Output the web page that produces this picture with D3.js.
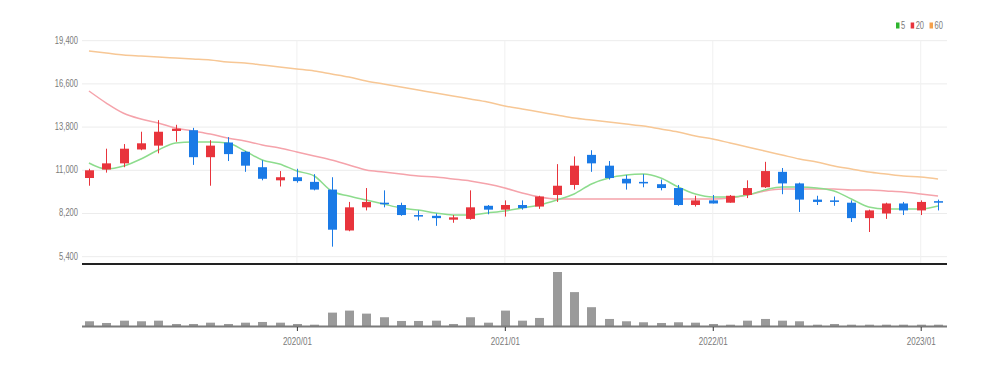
<!DOCTYPE html>
<html><head><meta charset="utf-8">
<script src="https://cdn.jsdelivr.net/npm/d3@7"></script>
<style>
html,body{margin:0;padding:0;background:#fff;}
text{font-family:"Liberation Sans",Arial,sans-serif;}
</style></head>
<body><svg id="c" width="1000" height="367"></svg>
<script>
const months = ["2019/01","2019/02","2019/03","2019/04","2019/05","2019/06","2019/07","2019/08","2019/09","2019/10","2019/11","2019/12",
"2020/01","2020/02","2020/03","2020/04","2020/05","2020/06","2020/07","2020/08","2020/09","2020/10","2020/11","2020/12",
"2021/01","2021/02","2021/03","2021/04","2021/05","2021/06","2021/07","2021/08","2021/09","2021/10","2021/11","2021/12",
"2022/01","2022/02","2022/03","2022/04","2022/05","2022/06","2022/07","2022/08","2022/09","2022/10","2022/11","2022/12",
"2023/01","2023/02"];
const open  = [10500,11050,11450,12350,12600,13550,13600,11850,12800,12200,11200,10350,10550,10250,9750,7100,8600,8900,8750,8100,8050,7800,7850,8700,8450,8750,8650,9400,10050,12000,11300,10450,10250,10100,9850,8750,9050,8900,9400,9900,10900,10150,9100,9050,8900,7900,8200,8850,8400,9000];
const high  = [11100,12400,12700,13500,14250,13950,13750,12950,13150,12250,11650,10950,11100,10750,10550,8950,9850,9700,8900,8400,8200,8100,9700,8750,9050,9050,9350,11400,11900,12300,11600,10700,10750,10400,10050,9350,9400,9400,10350,11550,11150,10200,9350,9300,9050,8450,8900,8950,9050,9100];
const low   = [10000,10850,11200,12300,12100,12850,11350,10000,11600,10900,10350,9950,10200,9700,6050,7050,8400,8600,8050,7750,7400,7600,7800,8150,8000,8450,8500,8950,9750,10900,10400,9750,9900,9700,8700,8650,8850,8900,9200,9850,9450,8300,8750,8700,7650,7000,7850,8100,8100,8400];
const close = [11000,11450,12400,12750,13500,13700,11850,12600,12050,11300,10450,10550,10300,9750,7150,8600,8950,8800,8100,8000,7900,7950,8600,8450,8750,8550,9300,10000,11300,11450,10500,10150,10150,9850,8750,9050,8850,9350,9850,10950,10150,9100,8950,8950,7900,8400,8850,8400,8950,8900];
const volume = [570,400,630,570,630,300,300,430,300,430,500,430,300,230,1430,1630,1330,970,600,600,630,300,970,430,1630,630,900,5470,3470,1970,800,570,470,400,470,430,300,230,630,800,630,570,230,300,230,230,230,230,230,230];
const ma5  = [11473,11084,11278,11732,12316,12769,12834,12834,12769,12251,11668,11409,10955,10631,9659,9335,9076,8817,8558,8428,8234,8104,8104,8234,8363,8558,8752,9076,9465,10113,10502,10696,10761,10502,9919,9465,9270,9270,9400,9724,9919,9919,9853,9659,9140,8622,8493,8493,8493,8687];
const ma20 = [16140,15360,14700,14325,14066,13742,13548,13353,13094,12900,12640,12446,12187,11927,11668,11344,11020,10890,10761,10631,10566,10437,10307,10113,9853,9529,9270,9140,9140,9140,9140,9140,9140,9140,9140,9140,9140,9205,9400,9659,9789,9789,9789,9789,9724,9724,9659,9594,9465,9335];
const ma60 = [18733,18603,18473,18408,18344,18279,18214,18149,18019,17955,17825,17695,17566,17436,17242,17047,16788,16594,16399,16205,16010,15816,15621,15427,15168,14973,14779,14584,14390,14260,14131,14001,13872,13677,13483,13224,13029,12770,12511,12251,11992,11733,11538,11279,11084,10890,10760,10631,10566,10436];
const priceTicks = [5400,8200,11000,13800,16600,19400];
const xTickLabels = ["2020/01","2021/01","2022/01","2023/01"];
const legendItems = [{label:"5",color:"#2db52d"},{label:"20",color:"#e8343c"},{label:"60",color:"#f5a04a"}];

const svg = d3.select("#c");
const L = 82, R = 947;
const x = d3.scalePoint().domain(months).range([80.3, 946.7]).padding(0.5);
const y = d3.scaleLinear().domain([5400, 19400]).range([256.7, 40.7]);
const yv = d3.scaleLinear().domain([0, 5500]).range([327, 271.7]);
const UP = "#e8343c", DOWN = "#1a7ae6";

function narrow(sel, ratio) {
  sel.each(function() {
    const n = this.getComputedTextLength();
    d3.select(this).attr("textLength", n * ratio).attr("lengthAdjust", "spacingAndGlyphs");
  });
}

// grid
svg.append("g").selectAll("line").data(priceTicks).join("line")
  .attr("x1", L).attr("x2", R).attr("y1", d => y(d)).attr("y2", d => y(d))
  .attr("stroke", "#ececec").attr("stroke-width", 1);
svg.append("g").selectAll("line").data(xTickLabels).join("line")
  .attr("x1", d => x(d)).attr("x2", d => x(d)).attr("y1", y(19400)).attr("y2", 264)
  .attr("stroke", "#f0f0f0").attr("stroke-width", 1);

// y labels
const yAxis = d3.axisLeft(y).tickValues(priceTicks).tickSize(0).tickPadding(0).tickFormat(d3.format(","));
const ga = svg.append("g").attr("transform", "translate(78,-1)").call(yAxis);
ga.select(".domain").remove();
ga.selectAll("text").attr("fill", "#7a7a7a").attr("font-size", "10.5px").attr("font-family", '"Liberation Sans",Arial,sans-serif');
narrow(ga.selectAll("text"), 0.72);

// MA lines
const line = arr => d3.line().x((d, i) => x(months[i])).y(d => y(d)).curve(d3.curveMonotoneX)(arr);
svg.append("path").attr("d", line(ma60)).attr("fill", "none").attr("stroke", "#f7c795").attr("stroke-width", 1.5);
svg.append("path").attr("d", line(ma20)).attr("fill", "none").attr("stroke", "#f5a3ab").attr("stroke-width", 1.5);
svg.append("path").attr("d", line(ma5)).attr("fill", "none").attr("stroke", "#8ddc8d").attr("stroke-width", 1.5);

// candles
const idx = d3.range(months.length);
const cg = svg.append("g");
cg.selectAll("line").data(idx).join("line")
  .attr("x1", i => Math.round(x(months[i])) + 0.5).attr("x2", i => Math.round(x(months[i])) + 0.5)
  .attr("y1", i => y(high[i])).attr("y2", i => y(low[i]))
  .attr("stroke", i => close[i] >= open[i] ? UP : DOWN).attr("stroke-width", 1);
cg.selectAll("rect").data(idx).join("rect")
  .attr("x", i => Math.round(x(months[i])) - 4).attr("width", 9)
  .attr("y", i => y(Math.max(open[i], close[i])))
  .attr("height", i => Math.max(1.5, Math.abs(y(open[i]) - y(close[i]))))
  .attr("fill", i => close[i] >= open[i] ? UP : DOWN);

// separator line
svg.append("line").attr("x1", L).attr("x2", R).attr("y1", 264).attr("y2", 264).attr("stroke", "#222").attr("stroke-width", 2);

// volume bars
svg.append("g").selectAll("rect").data(idx).join("rect")
  .attr("x", i => Math.round(x(months[i])) - 4).attr("width", 9)
  .attr("y", i => yv(volume[i])).attr("height", i => yv(0) - yv(volume[i]))
  .attr("fill", "#9a9a9a");
svg.append("line").attr("x1", L).attr("x2", R).attr("y1", 326.5).attr("y2", 326.5).attr("stroke", "#7a7a7a").attr("stroke-width", 2);

// x axis
const xAxis = d3.axisBottom(x).tickValues(xTickLabels).tickSize(4).tickPadding(6);
const gx = svg.append("g").attr("transform", "translate(0,327)").call(xAxis);
gx.select(".domain").remove();
gx.selectAll("line").attr("stroke", "#333");
gx.selectAll("text").attr("fill", "#7a7a7a").attr("font-size", "11px").attr("font-family", '"Liberation Sans",Arial,sans-serif');
narrow(gx.selectAll("text"), 0.73);

// legend
const lg = svg.append("g").attr("transform", "translate(896,25.5)");
let lx = 0;
legendItems.forEach(it => {
  lg.append("rect").attr("x", lx).attr("y", -3).attr("width", 3.5).attr("height", 6).attr("fill", it.color);
  const t = lg.append("text").attr("x", lx + 5).attr("y", 3.5).attr("fill", "#7a7a7a").attr("font-size", "10px").text(it.label);
  const n = t.node().getComputedTextLength() * 0.75;
  t.attr("textLength", n).attr("lengthAdjust", "spacingAndGlyphs");
  lx += 5 + n + 5.5;
});
</script></body></html>
